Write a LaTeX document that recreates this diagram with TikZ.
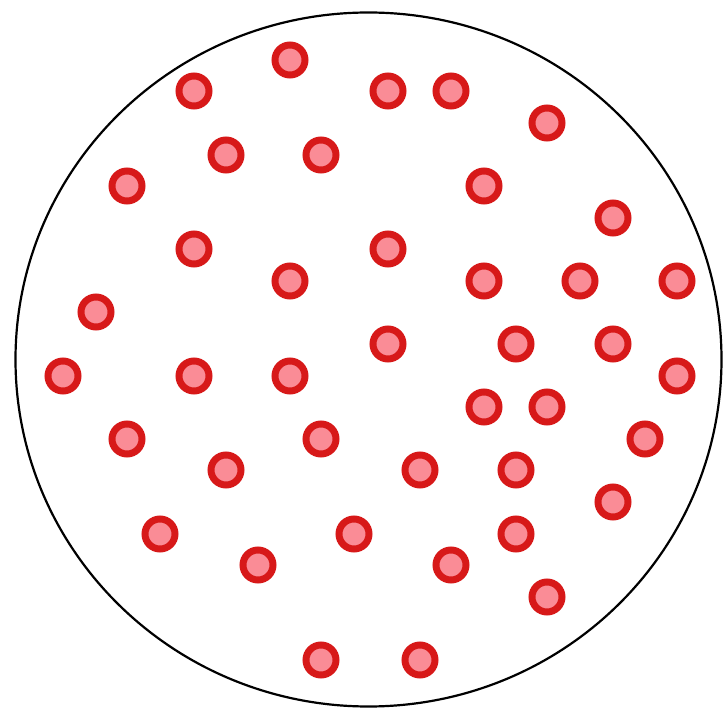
\documentclass[tikz,border=0pt]{standalone}
\usepackage{xcolor}
\definecolor{dotred}{RGB}{215,25,25}
\definecolor{dotpink}{RGB}{250,140,150}

\begin{document}
\begin{tikzpicture}[
    x=1pt, y=-1pt,
    dish/.style={draw, line width=2.2pt},
    cell/.style={circle, draw=dotred, fill=dotpink, line width=7pt, minimum size=30pt, inner sep=0pt}
  ]
    \useasboundingbox (0,0) rectangle (724,708);
    \draw[dish] (368.5,359.5) ellipse [x radius=353, y radius=347];
    \foreach \px/\py [count=\i] in {
        290/60, 194/91, 388/91, 451/91, 547/123, 226/155, 321/155, 127/186,
        484/186, 613/218, 194/249, 388/249, 290/281, 484/281, 580/281, 677/281,
        96/312, 388/344, 516/344, 613/344, 63/376, 194/376, 290/376, 677/376,
        484/407, 547/407, 127/439, 321/439, 645/439, 226/470, 420/470, 516/470,
        613/502, 160/534, 354/534, 516/534, 258/565, 451/565, 547/597, 321/660,
        420/660}
      \node[cell] (c\i) at (\px,\py) {};
  \end{tikzpicture}
\end{document}
